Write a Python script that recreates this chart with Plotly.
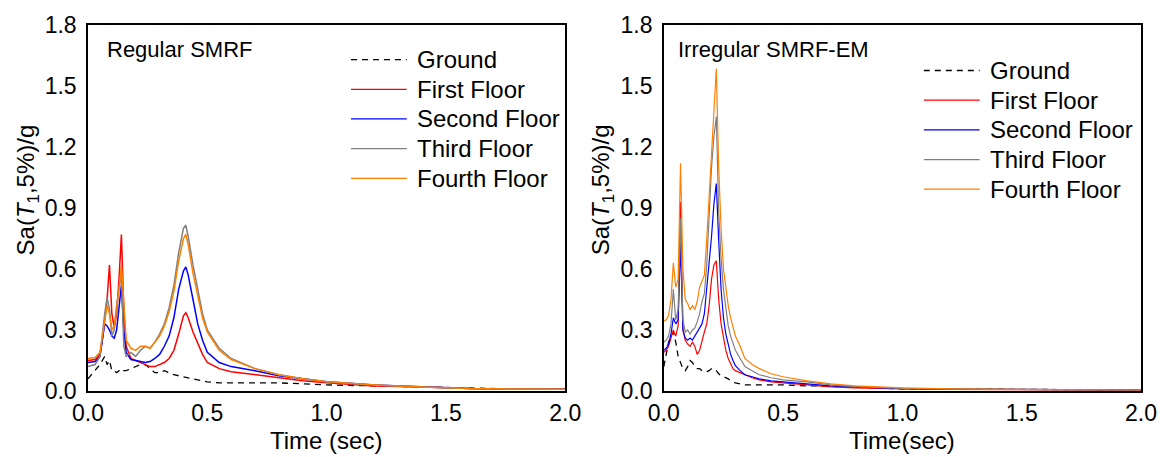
import plotly.graph_objects as go

# ---------------- Regular SMRF: floor response spectra ----------------
REG_TIME = [0.00, 0.03, 0.05, 0.06, 0.07, 0.08, 0.09, 0.10, 0.11, 0.12,
            0.13, 0.14, 0.15, 0.16, 0.18, 0.20, 0.22, 0.24, 0.26, 0.28,
            0.30, 0.32, 0.34, 0.36, 0.38, 0.40, 0.41, 0.42, 0.44, 0.46,
            0.48, 0.50, 0.55, 0.60, 0.70, 0.80, 0.90, 1.00, 1.20, 1.40,
            1.60, 1.80, 2.00]
REG_GROUND = [0.06, 0.10, 0.13, 0.15, 0.17, 0.13, 0.15, 0.10, 0.10, 0.09,
              0.10, 0.09, 0.10, 0.10, 0.11, 0.12, 0.13, 0.13, 0.11, 0.09,
              0.09, 0.10, 0.09, 0.08, 0.075, 0.07, 0.068, 0.065, 0.06, 0.055,
              0.05, 0.045, 0.04, 0.04, 0.04, 0.04, 0.035, 0.03, 0.025, 0.02,
              0.015, 0.01, 0.01]
REG_FIRST = [0.15, 0.155, 0.18, 0.25, 0.35, 0.45, 0.62, 0.38, 0.31, 0.38,
             0.55, 0.77, 0.40, 0.22, 0.16, 0.15, 0.14, 0.13, 0.12, 0.12,
             0.13, 0.14, 0.16, 0.20, 0.28, 0.37, 0.385, 0.36, 0.29, 0.23,
             0.18, 0.14, 0.11, 0.095, 0.08, 0.065, 0.05, 0.04, 0.025, 0.02,
             0.012, 0.01, 0.01]
REG_SECOND = [0.14, 0.145, 0.17, 0.24, 0.33, 0.32, 0.30, 0.27, 0.26, 0.30,
              0.42, 0.52, 0.30, 0.19, 0.155, 0.15, 0.145, 0.14, 0.145, 0.16,
              0.18, 0.22, 0.27, 0.36, 0.50, 0.59, 0.61, 0.57, 0.45, 0.33,
              0.25, 0.19, 0.14, 0.12, 0.10, 0.075, 0.06, 0.045, 0.03, 0.02,
              0.012, 0.01, 0.008]
REG_THIRD = [0.12, 0.13, 0.17, 0.28, 0.38, 0.46, 0.40, 0.27, 0.30, 0.42,
             0.50, 0.58, 0.22, 0.17, 0.19, 0.17, 0.20, 0.22, 0.21, 0.24,
             0.28, 0.33, 0.41, 0.52, 0.68, 0.80, 0.815, 0.76, 0.62, 0.50,
             0.38, 0.30, 0.21, 0.16, 0.11, 0.08, 0.06, 0.045, 0.03, 0.02,
             0.012, 0.01, 0.008]
REG_FOURTH = [0.16, 0.165, 0.19, 0.27, 0.35, 0.42, 0.38, 0.30, 0.32, 0.40,
              0.50, 0.62, 0.40, 0.25, 0.21, 0.20, 0.22, 0.22, 0.21, 0.24,
              0.27, 0.32, 0.39, 0.49, 0.64, 0.75, 0.77, 0.72, 0.58, 0.47,
              0.36, 0.29, 0.20, 0.155, 0.11, 0.08, 0.06, 0.045, 0.03, 0.02,
              0.012, 0.01, 0.008]

# ---------------- Irregular SMRF-EM: floor response spectra ----------------
IRR_TIME = [0.00, 0.01, 0.02, 0.03, 0.04, 0.05, 0.06, 0.07, 0.08, 0.09,
            0.10, 0.11, 0.12, 0.13, 0.14, 0.15, 0.16, 0.17, 0.18, 0.19,
            0.20, 0.21, 0.22, 0.23, 0.24, 0.25, 0.26, 0.27, 0.28, 0.29,
            0.30, 0.32, 0.34, 0.37, 0.40, 0.45, 0.50, 0.60, 0.70, 0.80,
            0.90, 1.00, 1.20, 1.50, 2.00]
IRR_GROUND = [0.12, 0.18, 0.24, 0.27, 0.29, 0.24, 0.17, 0.14, 0.11, 0.10,
              0.12, 0.15, 0.14, 0.12, 0.11, 0.11, 0.10, 0.095, 0.095, 0.10,
              0.11, 0.11, 0.10, 0.085, 0.075, 0.07, 0.065, 0.06, 0.05, 0.045,
              0.04, 0.035, 0.03, 0.03, 0.03, 0.03, 0.03, 0.025, 0.025, 0.02,
              0.015, 0.01, 0.01, 0.008, 0.005]
IRR_FIRST = [0.19, 0.20, 0.22, 0.26, 0.30, 0.27, 0.32, 0.93, 0.30, 0.25,
             0.23, 0.22, 0.24, 0.22, 0.18, 0.20, 0.25, 0.29, 0.33, 0.42,
             0.55, 0.62, 0.64, 0.45, 0.33, 0.26, 0.20, 0.16, 0.13, 0.11,
             0.10, 0.09, 0.08, 0.065, 0.055, 0.045, 0.04, 0.03, 0.02, 0.015,
             0.012, 0.01, 0.008, 0.006, 0.004]
IRR_SECOND = [0.20, 0.21, 0.23, 0.28, 0.36, 0.33, 0.35, 0.72, 0.30, 0.26,
              0.25, 0.26, 0.25, 0.27, 0.29, 0.31, 0.33, 0.38, 0.50, 0.62,
              0.76, 0.92, 1.02, 0.74, 0.50, 0.36, 0.28, 0.23, 0.18, 0.15,
              0.125, 0.10, 0.08, 0.07, 0.06, 0.05, 0.045, 0.035, 0.025, 0.02,
              0.015, 0.012, 0.009, 0.007, 0.005]
IRR_THIRD = [0.24, 0.25, 0.27, 0.33, 0.50, 0.35, 0.40, 0.85, 0.35, 0.29,
             0.30, 0.28, 0.30, 0.31, 0.34, 0.38, 0.44, 0.48, 0.62, 0.88,
             1.10, 1.25, 1.35, 0.88, 0.65, 0.50, 0.40, 0.32, 0.27, 0.23,
             0.20, 0.16, 0.12, 0.10, 0.08, 0.065, 0.055, 0.045, 0.03, 0.022,
             0.018, 0.013, 0.01, 0.007, 0.005]
IRR_FOURTH = [0.345, 0.35, 0.37, 0.45, 0.63, 0.51, 0.55, 1.12, 0.60, 0.45,
              0.43, 0.40, 0.42, 0.40, 0.44, 0.51, 0.54, 0.57, 0.75, 0.95,
              1.20, 1.40, 1.585, 1.10, 0.80, 0.60, 0.50, 0.42, 0.36, 0.32,
              0.27, 0.22, 0.16, 0.13, 0.11, 0.085, 0.07, 0.05, 0.035, 0.025,
              0.02, 0.015, 0.01, 0.008, 0.005]

SERIES_NAMES = ["Ground", "First Floor", "Second Floor", "Third Floor", "Fourth Floor"]
PANEL_TITLES = ["Regular SMRF", "Irregular SMRF-EM"]
X_TITLES = ["Time (sec)", "Time(sec)"]
Y_TITLE = "Sa(<i>T</i><sub>1</sub>,5%)/g"

COLORS = ["#000000", "#ff0000", "#0000ff", "#808080", "#ff8000"]
DASHES = ["6px,5px", "solid", "solid", "solid", "solid"]

FONT = "Arial, 'Liberation Sans', sans-serif"

# page geometry (pixels)
W, H = 1169, 457
ML, MR, MT, MB = 88, 24, 21, 66
PW = W - ML - MR
PH = H - MT - MB


def px(xp):
    return (xp - ML) / PW


def py(yp):
    return (H - MB - yp) / PH


fig = go.Figure()

panels = [
    ("x", "y", REG_TIME, [REG_GROUND, REG_FIRST, REG_SECOND, REG_THIRD, REG_FOURTH], 1.5),
    ("x2", "y2", IRR_TIME, [IRR_GROUND, IRR_FIRST, IRR_SECOND, IRR_THIRD, IRR_FOURTH], 1.2),
]
for xa, ya, t, series, lw in panels:
    for name, vals, col, dash in zip(SERIES_NAMES, series, COLORS, DASHES):
        fig.add_trace(go.Scatter(
            x=t, y=vals, mode="lines", name=name, showlegend=False,
            line=dict(color=col, width=lw if dash == "solid" else 1.3, dash=dash),
            xaxis=xa, yaxis=ya,
        ))

axis_common = dict(
    showline=True, mirror=True, linecolor="black", linewidth=1.5,
    showgrid=False, zeroline=False, ticks="",
    tickfont=dict(family=FONT, size=23, color="black"),
)

fig.update_layout(
    width=W, height=H,
    margin=dict(l=ML, r=MR, t=MT, b=MB),
    paper_bgcolor="white", plot_bgcolor="white",
    font=dict(family=FONT, color="black"),
    xaxis=dict(domain=[0, px(567)], range=[0, 2], dtick=0.5, tickformat=".1f",
               anchor="y", ticklabelstandoff=1, **axis_common),
    yaxis=dict(domain=[0, 1], range=[0, 1.8], dtick=0.3, tickformat=".1f",
               anchor="x", ticklabelstandoff=5, **axis_common),
    xaxis2=dict(domain=[px(666), 1], range=[0, 2], dtick=0.5, tickformat=".1f",
                anchor="y2", ticklabelstandoff=1, **axis_common),
    yaxis2=dict(domain=[0, 1], range=[0, 1.8], dtick=0.3, tickformat=".1f",
                anchor="x2", ticklabelstandoff=5, **axis_common),
)

annotations = []
# panel labels
annotations.append(dict(x=px(105), y=py(46), text=PANEL_TITLES[0], xanchor="left",
                        yanchor="middle", font=dict(size=22)))
annotations.append(dict(x=px(678), y=py(46), text=PANEL_TITLES[1], xanchor="left",
                        yanchor="middle", font=dict(size=22)))
# axis titles
annotations.append(dict(x=px(327), y=py(441), text=X_TITLES[0], xanchor="center",
                        yanchor="middle", font=dict(size=24)))
annotations.append(dict(x=px(905), y=py(441), text=X_TITLES[1], xanchor="center",
                        yanchor="middle", font=dict(size=24)))
annotations.append(dict(x=px(27), y=py(188), text=Y_TITLE, textangle=-90,
                        xanchor="center", yanchor="middle", font=dict(size=24)))
annotations.append(dict(x=px(604), y=py(188), text=Y_TITLE, textangle=-90,
                        xanchor="center", yanchor="middle", font=dict(size=24)))

# legends drawn as line samples plus labels
shapes = []
legend_specs = [
    (352, 408, 416, [56, 86, 116, 146, 176]),
    (927, 983, 991, [67, 97, 127, 157, 187]),
]
for x0, x1, xt, rows in legend_specs:
    for name, col, dash, yr in zip(SERIES_NAMES, COLORS, DASHES, rows):
        shapes.append(dict(type="line", xref="paper", yref="paper",
                           x0=px(x0), x1=px(x1), y0=py(yr), y1=py(yr),
                           line=dict(color=col, width=1.3, dash=dash)))
        annotations.append(dict(x=px(xt), y=py(yr), text=name, xanchor="left",
                                yanchor="middle", font=dict(size=24)))

for a in annotations:
    a.update(xref="paper", yref="paper", showarrow=False)
    a["font"].update(family=FONT, color="black")

fig.update_layout(annotations=annotations, shapes=shapes)

fig.write_html("out.html")
